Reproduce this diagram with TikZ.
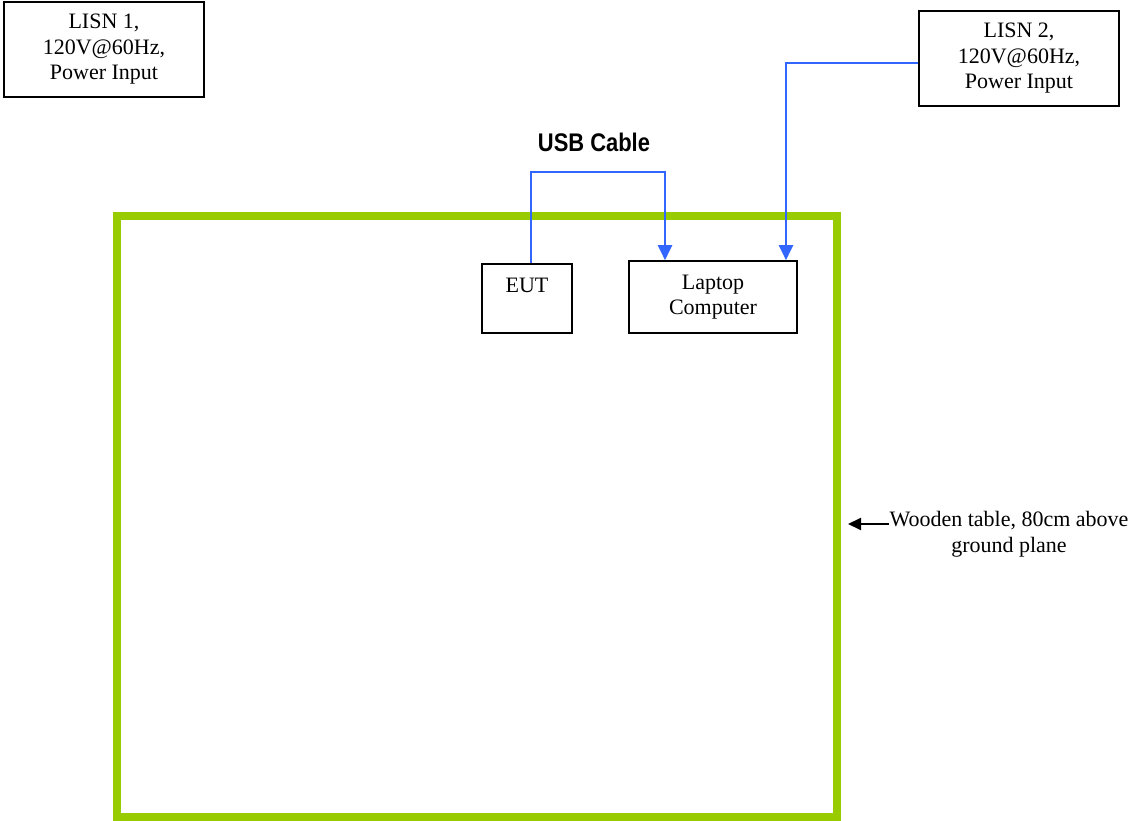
\documentclass[tikz,border=0pt]{standalone}
\usepackage{fontspec}
\setmainfont{Liberation Serif}
\setsansfont{Liberation Sans}
\usetikzlibrary{arrows.meta}
\definecolor{tablegreen}{HTML}{99CC00}
\definecolor{cableblue}{HTML}{3366FF}
\begin{document}
\begin{tikzpicture}[x=1pt,y=-1pt,
  box/.style={draw=black, line width=1.6pt, inner sep=0pt, align=center,
    font=\fontsize{22}{25.5}\selectfont},
  cable/.style={draw=cableblue, line width=2pt, -{Triangle[width=14pt,length=15pt]}},
  table/.style={draw=tablegreen, line width=8pt},
  note/.style={inner sep=0pt, align=center, font=\fontsize{22}{25.5}\selectfont},
  pointer/.style={draw=black, line width=2pt, -{Triangle[width=12pt,length=13pt]}}]
\useasboundingbox (0,0) rectangle (1136,821);
\fill[white] (0,0) rectangle (1136,821);
% table
\draw[table] (117,216) rectangle (837,817);
% boxes
\node[box, minimum width=200, minimum height=95] (lisn1) at (104,49.5) {LISN 1,\\120V@60Hz,\\Power Input};
\node[box, minimum width=200, minimum height=95] (lisn2) at (1019,58.5) {LISN 2,\\120V@60Hz,\\Power Input};
\node[box, minimum width=90, minimum height=69] (eut) at (527,298.5) {EUT\\~};
\node[box, minimum width=168, minimum height=72] (laptop) at (713,297) {Laptop\\Computer};
% label
\node[inner sep=0pt, font=\fontsize{25.5}{30}\selectfont\sffamily\bfseries] (usb) at (594,142) {\scalebox{0.86}[1]{USB Cable}};
% connectors
\draw[cable] ([yshift=-4.5pt]lisn2.west) -| ([xshift=73pt]laptop.north);
\draw[cable] ([xshift=4pt]eut.north) -- ++(0,-91) -| ([xshift=-48pt]laptop.north);
% wooden table note
\node[note] (wood) at (1009,534) {Wooden table, 80cm above\\ground plane};
\coordinate (tip) at (848,524);
\draw[pointer] (wood.west |- tip) -- (tip);
\end{tikzpicture}
\end{document}
